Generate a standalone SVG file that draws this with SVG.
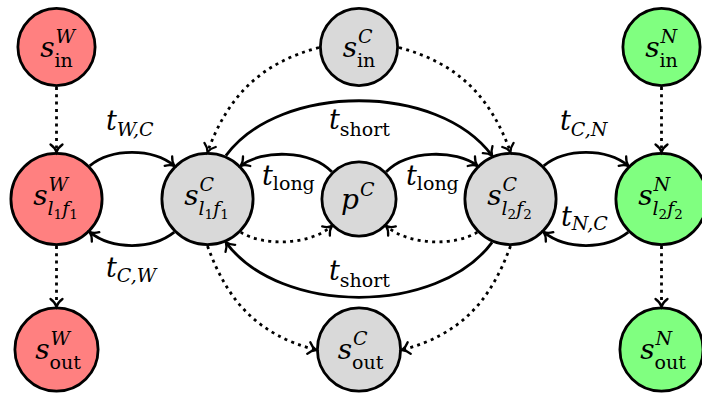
<svg xmlns="http://www.w3.org/2000/svg" width="702" height="394" viewBox="0 0 702 394">
<defs>
<style>
.nr{fill:#FF8080;stroke:#000;stroke-width:2.8}
.ng{fill:#D9D9D9;stroke:#000;stroke-width:2.8}
.nn{fill:#80FF80;stroke:#000;stroke-width:2.8}
text{font-family:"DejaVu Serif","Liberation Serif",serif;fill:#000}
.m{font-style:italic;font-size:28px}
.t{font-style:italic;font-size:27px}
.si{font-style:italic;font-size:19px}
.su{font-style:normal;font-size:19px}
.ss{font-style:normal;font-size:13.5px}
.e{fill:none;stroke:#000;stroke-width:2.8;marker-end:url(#ah)}
.d{fill:none;stroke:#000;stroke-width:2.8;stroke-dasharray:3 4.3;marker-end:url(#ah)}
</style>
<marker id="ah" markerUnits="userSpaceOnUse" markerWidth="20" markerHeight="20" refX="0" refY="0" orient="auto" overflow="visible">
<path d="M -7.5,-6 C -5,-2.5 -2,-0.7 0,0 C -2,0.7 -5,2.5 -7.5,6" fill="none" stroke="#000" stroke-width="2.3" stroke-linecap="round" stroke-dasharray="none"/>
</marker>
</defs>

<g id="nodes">
<g id="inW"><circle class="nr" cx="56.5" cy="47" r="38.6"/>
<text class="m" x="54.5" y="57" text-anchor="end">s</text><text class="si" x="55.5" y="43">W</text><text class="su" x="54.5" y="67">in</text></g>
<g id="lW"><circle class="nr" cx="56.5" cy="199" r="45.6"/>
<text class="m" x="47.5" y="204.5" text-anchor="end">s</text><text class="si" x="48.5" y="191">W</text><text class="si" x="47.5" y="215">l<tspan class="ss" dy="4">1</tspan><tspan dy="-4">f</tspan><tspan class="ss" dy="4">1</tspan></text></g>
<g id="outW"><circle class="nr" cx="56.5" cy="349.5" r="41.6"/>
<text class="m" x="49.5" y="358.5" text-anchor="end">s</text><text class="si" x="50.5" y="345">W</text><text class="su" x="49.5" y="368.5">out</text></g>

<g id="inC"><circle class="ng" cx="359" cy="47" r="38.6"/>
<text class="m" x="357" y="57" text-anchor="end">s</text><text class="si" x="358" y="43">C</text><text class="su" x="357" y="67">in</text></g>
<g id="lC"><circle class="ng" cx="207.5" cy="199" r="45.6"/>
<text class="m" x="198.5" y="204.5" text-anchor="end">s</text><text class="si" x="199.5" y="191">C</text><text class="si" x="198.5" y="215">l<tspan class="ss" dy="4">1</tspan><tspan dy="-4">f</tspan><tspan class="ss" dy="4">1</tspan></text></g>
<g id="pC"><circle class="ng" cx="359" cy="199" r="37.1"/>
<text class="m" x="359" y="209" text-anchor="end">p</text><text class="si" x="360" y="196">C</text></g>
<g id="rC"><circle class="ng" cx="510.5" cy="199" r="45.6"/>
<text class="m" x="501.5" y="204.5" text-anchor="end">s</text><text class="si" x="502.5" y="191">C</text><text class="si" x="501.5" y="215">l<tspan class="ss" dy="4">2</tspan><tspan dy="-4">f</tspan><tspan class="ss" dy="4">2</tspan></text></g>
<g id="outC"><circle class="ng" cx="359" cy="349.5" r="41.6"/>
<text class="m" x="352" y="358.5" text-anchor="end">s</text><text class="si" x="353" y="345">C</text><text class="su" x="352" y="368.5">out</text></g>

<g id="inN"><circle class="nn" cx="661.5" cy="47" r="38.6"/>
<text class="m" x="659.5" y="57" text-anchor="end">s</text><text class="si" x="660.5" y="43">N</text><text class="su" x="659.5" y="67">in</text></g>
<g id="rN"><circle class="nn" cx="661.5" cy="199" r="45.6"/>
<text class="m" x="652.5" y="204.5" text-anchor="end">s</text><text class="si" x="653.5" y="191">N</text><text class="si" x="652.5" y="215">l<tspan class="ss" dy="4">2</tspan><tspan dy="-4">f</tspan><tspan class="ss" dy="4">2</tspan></text></g>
<g id="outN"><circle class="nn" cx="661.5" cy="349.5" r="41.6"/>
<text class="m" x="654.5" y="358.5" text-anchor="end">s</text><text class="si" x="655.5" y="345">N</text><text class="su" x="654.5" y="368.5">out</text></g>
</g>

<g id="connectors">
<path class="e" d="M 89.7,165.8 C 112,148 152,148 174.3,165.8"/>
<path class="e" d="M 174.3,232.2 C 152,250 112,250 89.7,232.2"/>
<path class="e" d="M 331.8,171.8 C 310,149.5 262,149.5 240.7,165.8"/>
<path class="e" d="M 386.2,171.8 C 408,149.5 456,149.5 477.3,165.8"/>
<path class="e" d="M 225.9,155.7 C 279.9,82.4 438.1,82.4 492.1,155.7"/>
<path class="e" d="M 492.1,242.3 C 438.1,315.6 279.9,315.6 225.9,242.3"/>
<path class="e" d="M 543.7,165.8 C 566,148 606,148 628.3,165.8"/>
<path class="e" d="M 628.3,232.2 C 606,250 566,250 543.7,232.2"/>
<path class="d" d="M 56.5,87 V 152"/>
<path class="d" d="M 56.5,246 V 306.5"/>
<path class="d" d="M 661.5,87 V 152"/>
<path class="d" d="M 661.5,246 V 306.5"/>
<path class="d" d="M 319,47.5 C 261,63 228,95.6 207.5,152"/>
<path class="d" d="M 399,47.5 C 457,63 490,95.6 510.5,152"/>
<path class="d" d="M 240.7,232.2 C 262,246 308,246 331.8,226.2"/>
<path class="d" d="M 477.3,232.2 C 456,246 410,246 386.2,226.2"/>
<path class="d" d="M 207.5,246 C 228,302.4 258,334.5 316,350"/>
<path class="d" d="M 510.5,246 C 490,302.4 460,334.5 402,350"/>
<text class="t" x="106" y="130">t<tspan class="si" dy="6">W,C</tspan></text>
<text class="t" x="106" y="276.5">t<tspan class="si" dy="5.5">C,W</tspan></text>
<text class="t" x="262" y="185">t<tspan class="su" dy="5">long</tspan></text>
<text class="t" x="406" y="185">t<tspan class="su" dy="5">long</tspan></text>
<text class="t" x="329" y="128.5">t<tspan class="su" dy="7">short</tspan></text>
<text class="t" x="329" y="280">t<tspan class="su" dy="6.5">short</tspan></text>
<text class="t" x="560" y="130">t<tspan class="si" dy="6">C,N</tspan></text>
<text class="t" x="561" y="225.5">t<tspan class="si" dy="4.5">N,C</tspan></text>
</g>
</svg>
